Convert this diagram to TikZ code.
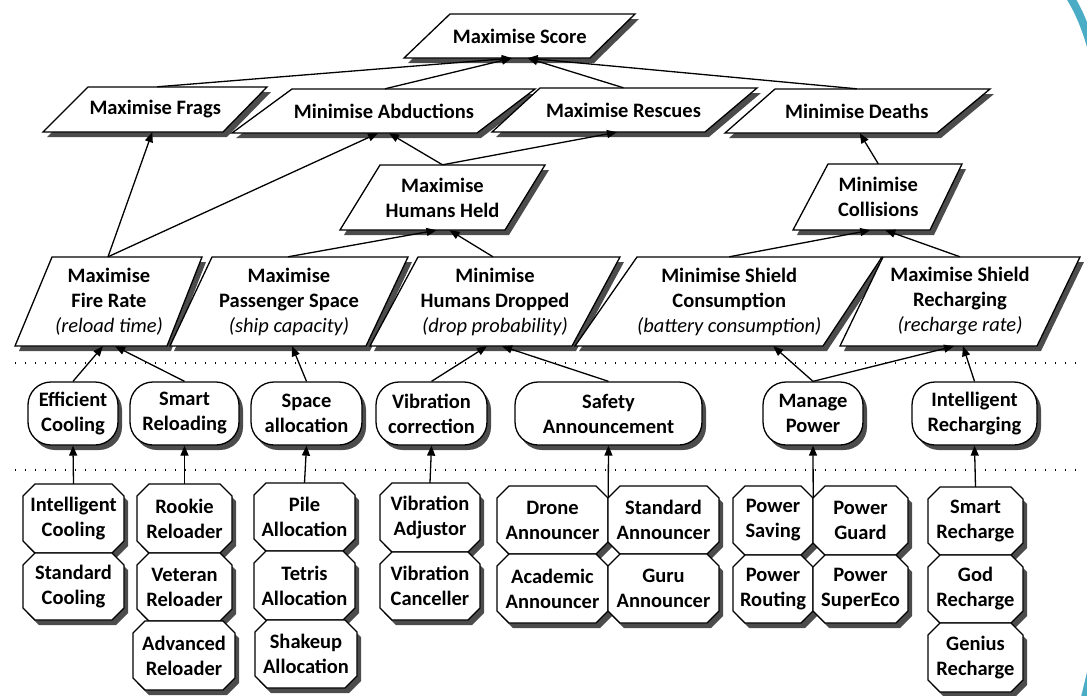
\documentclass[tikz,border=0pt]{standalone}
\usepackage{fontspec}
\setmainfont{Carlito}
\usetikzlibrary{shadows,arrows.meta,calc}
\definecolor{acc}{RGB}{75,172,198}
\tikzset{
 shp/.style={draw, fill=white, line width=1.3pt, line join=miter,
   drop shadow={shadow xshift=4pt, shadow yshift=-5pt, fill=black!70, opacity=1}},
 lbl/.style={font=\bfseries\fontsize{20.5}{25}\selectfont, align=center, inner sep=2pt},
 rbox/.style={shp, lbl, rounded corners=23pt},
 arr/.style={line width=1.3pt, -{Triangle[length=10pt,width=8pt]}},
 sepline/.style={line width=1.2pt, dash pattern=on 1.2pt off 8.8pt},
}
% parallelogram: TL TR BL BR top bottom name text
\newcommand\pgram[8]{%
 \path[shp] (#1,#5) -- (#2,#5) -- (#4,#6) -- (#3,#6) -- cycle;
 \node[lbl, minimum width={((#2)-(#1)+(#4)-(#3))/2}, minimum height={(#6)-(#5)}] (#7)
   at ({((#1)+(#2)+(#3)+(#4))/4},{((#5)+(#6))/2}) {#8};}
% octagon: x1 x2 y1 y2 name text
\newcommand\octa[6]{%
 \path[shp] ({#1+12},#3) -- ({#2-12},#3) -- (#2,{#3+12}) -- (#2,{#4-12}) -- ({#2-12},#4)
   -- ({#1+12},#4) -- (#1,{#4-12}) -- (#1,{#3+12}) -- cycle;
 \node[lbl, minimum width={(#2)-(#1)}, minimum height={(#4)-(#3)}] (#5)
   at ({((#1)+(#2))/2},{((#3)+(#4))/2}) {#6};}
% rounded box: x1 x2 y1 y2 name text
\newcommand\rnd[6]{%
 \node[rbox, minimum width={(#2)-(#1)}, minimum height={(#4)-(#3)}] (#5)
   at ({((#1)+(#2))/2},{((#3)+(#4))/2}) {#6};}
\newcommand\sub[1]{{\mdseries\itshape #1}}
\begin{document}
\begin{tikzpicture}[x=1pt,y=-1pt]
\useasboundingbox (0,0) rectangle (1087,696);
\clip (0,0) rectangle (1087,696);

% cyan decoration
\draw[acc, line width=8pt] (1070,-3) .. controls (1078,10) and (1085,25) .. (1092,50);
\fill[acc] (1088,668) -- (1081,697) -- (1088,697) -- cycle;

% separators
\draw[sepline] (15,363) -- (1077,363);
\draw[sepline] (15,470) -- (1077,470);

% goals
\pgram{450}{635}{404}{590}{14}{58}{score}{Maximise Score}
\pgram{88}{267}{43}{223}{87}{132}{frags}{Maximise Frags}
\pgram{292}{535}{232}{477}{89}{133}{abd}{Minimise Abductions}
\pgram{540}{757}{492}{705}{88}{132}{resc}{Maximise Rescues}
\pgram{775}{990}{725}{937}{89}{133}{deaths}{Minimise Deaths}
\pgram{380}{545}{340}{505}{165}{230}{held}{Maximise\\Humans Held}
\pgram{828}{962}{793}{930}{164}{230}{coll}{Minimise\\Collisions}
\pgram{52}{202}{15}{167}{257}{346}{fire}{Maximise\\Fire Rate\\\sub{(reload time)}}
\pgram{212}{408}{170}{366}{257}{346}{pass}{Maximise\\Passenger Space\\\sub{(ship capacity)}}
\pgram{418}{620}{370}{572}{257}{346}{drop}{Minimise\\Humans Dropped\\\sub{(drop probability)}}
\pgram{637}{882}{575}{823}{257}{346}{cons}{Minimise Shield\\Consumption\\\sub{(battery consumption)}}
\pgram{883}{1080}{840}{1037}{257}{346}{rech}{Maximise Shield\\Recharging\\\sub{(recharge rate)}}

% operations
\rnd{28}{118}{382}{445}{ec}{Efficient\\Cooling}
\rnd{130}{239}{382}{445}{sr}{Smart\\Reloading}
\rnd{251}{362}{382}{445}{sa}{Space\\allocation}
\rnd{376}{487}{382}{445}{vc}{Vibration\\correction}
\rnd{515}{702}{382}{445}{safety}{Safety\\Announcement}
\rnd{763}{863}{382}{445}{mp}{Manage\\Power}
\rnd{912}{1037}{382}{445}{ir}{Intelligent\\Recharging}

% components
\octa{23}{124}{484}{553}{ic}{Intelligent\\Cooling}
\octa{23}{124}{553}{620}{scool}{Standard\\Cooling}
\octa{137}{232}{484}{553}{rook}{Rookie\\Reloader}
\octa{137}{232}{553}{621}{vet}{Veteran\\Reloader}
\octa{133}{235}{621}{690}{adv}{Advanced\\Reloader}
\octa{254}{355}{483}{551}{pile}{Pile\\Allocation}
\octa{254}{355}{551}{620}{tetris}{Tetris\\Allocation}
\octa{255}{357}{620}{688}{shake}{Shakeup\\Allocation}
\octa{380}{480}{483}{552}{vadj}{Vibration\\Adjustor}
\octa{380}{480}{552}{620}{vcan}{Vibration\\Canceller}
\octa{497}{608}{486}{554}{drone}{Drone\\Announcer}
\octa{608}{719}{486}{554}{stdann}{Standard\\Announcer}
\octa{497}{608}{554}{623}{acad}{Academic\\Announcer}
\octa{608}{719}{554}{623}{guru}{Guru\\Announcer}
\octa{733}{813}{486}{555}{psav}{Power\\Saving}
\octa{813}{908}{486}{555}{pguard}{Power\\Guard}
\octa{733}{813}{555}{623}{prout}{Power\\Routing}
\octa{813}{908}{555}{623}{psuper}{Power\\SuperEco}
\octa{928}{1023}{487}{555}{srch}{Smart\\Recharge}
\octa{928}{1023}{555}{623}{god}{God\\Recharge}
\octa{928}{1023}{623}{692}{genius}{Genius\\Recharge}

\coordinate (annj) at ($(drone.north east)+(0,12)$);
\coordinate (powj) at ($(psav.north east)+(0,12)$);

% connectors: goals
\draw[arr] ($(frags.north)+(2,0)$) -- ($(score.south)+(-8,0)$);
\draw[arr] ($(abd.north)+(1,0)$) -- ($(score.south)+(-8,0)$);
\draw[arr] (resc.north) -- ($(score.south)+(8,0)$);
\draw[arr] (deaths.north) -- ($(score.south)+(8,0)$);
\draw[arr] ($(fire.north)+(-1,0)$) -- ($(frags.south)+(-3,0)$);
\draw[arr] ($(fire.north)+(-1,0)$) -- ($(abd.south)+(-6,0)$);
\draw[arr] (held.north) -- ($(abd.south)+(5,0)$);
\draw[arr] (held.north) -- ($(resc.south)+(-6.5,0)$);
\draw[arr] ($(pass.north)+(-1,0)$) -- ($(held.south)+(-6,0)$);
\draw[arr] ($(drop.north)+(-2,0)$) -- ($(held.south)+(7,0)$);
\draw[arr] (coll.north) -- ($(deaths.south)+(3,0)$);
\draw[arr] (cons.north) -- ($(coll.south)+(-8,0)$);
\draw[arr] (rech.north) -- ($(coll.south)+(7,0)$);

% connectors: operations
\draw[arr] (ec.north) -- ($(fire.south)+(-6,0)$);
\draw[arr] (sr.north) -- ($(fire.south)+(6,0)$);
\draw[arr] (sa.north) -- ($(pass.south)+(3,0)$);
\draw[arr] (vc.north) -- ($(drop.south)+(-8,0)$);
\draw[arr] (safety.north) -- ($(drop.south)+(7,0)$);
\draw[arr] (mp.north) -- ($(cons.south)+(44,0)$);
\draw[arr] (mp.north) -- ($(rech.south)+(-6,0)$);
\draw[arr] (ir.north) -- ($(rech.south)+(3,0)$);

% connectors: components
\draw[arr] (ic.north) -- (ec.south);
\draw[arr] (rook.north) -- (sr.south);
\draw[arr] (pile.north) -- (sa.south);
\draw[arr] (vadj.north) -- (vc.south);
\draw[arr] (annj) -- (safety.south);
\draw[arr] (powj) -- (mp.south);
\draw[arr] (srch.north) -- (ir.south);
\end{tikzpicture}
\end{document}
